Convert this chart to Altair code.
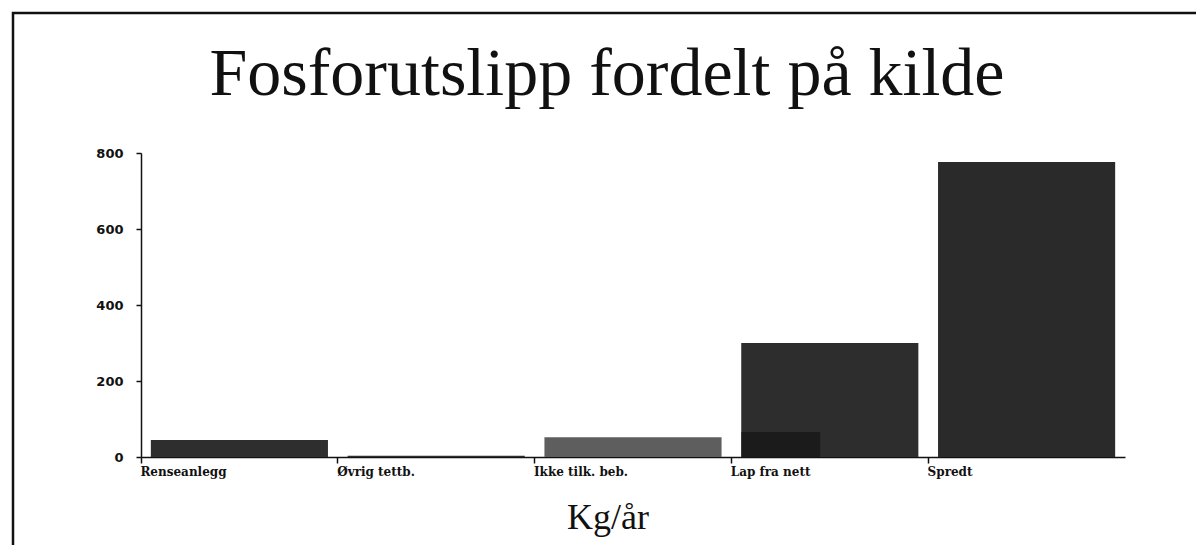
import altair as alt
import pandas as pd

categories = ["Renseanlegg", "Øvrig tettb.", "Ikke tilk. beb.", "Lap fra nett", "Spredt"]
values = [45, 3, 52, 300, 776]
bar_colors = ["#2e2e2e", "#2e2e2e", "#5e5e5e", "#2d2d2d", "#2a2a2a"]
inner_category = ["Lap fra nett"]
inner_values = [66]
y_ticks = [0, 200, 400, 600, 800]
title_text = "Fosforutslipp fordelt på kilde"
unit_text = "Kg/år"

df = pd.DataFrame({"kilde": categories, "kg": values, "farge": bar_colors})
df_inner = pd.DataFrame({"kilde": inner_category, "kg": inner_values})
one = pd.DataFrame({"t": [title_text], "u": [unit_text]})

W, H = 984, 304

xscale = alt.Scale(domain=categories, paddingInner=0, paddingOuter=0)
yscale = alt.Scale(domain=[0, 800], nice=False)

xaxis = alt.Axis(
    title=None, labelAngle=0, labelAlign="left", labelBaseline="top",
    bandPosition=0, labelOffset=-99, labelFlush=False,
    labelFont="DejaVu Serif", labelFontWeight="bold", labelFontSize=12,
    labelColor="#111", labelPadding=3, tickSize=6, tickColor="#111",
    tickWidth=1.5, domainColor="#111", domainWidth=1.5, labelOverlap=False,
)
yaxis = alt.Axis(
    title=None, values=y_ticks, labelFont="DejaVu Sans",
    labelFontWeight="bold", labelFontSize=13, labelColor="#111",
    labelPadding=13, tickSize=5, tickColor="#111", tickWidth=1.5,
    domainColor="#111", domainWidth=1.5, grid=False,
)

bars = alt.Chart(df).mark_bar(width=alt.RelativeBandSize(0.9)).encode(
    x=alt.X("kilde:N", scale=xscale, axis=xaxis, sort=categories),
    y=alt.Y("kg:Q", scale=yscale, axis=yaxis),
    color=alt.Color("farge:N", scale=None),
)

inner = alt.Chart(df_inner).mark_bar(
    width=alt.RelativeBandSize(0.4), xOffset=-49, color="#1b1b1b"
).encode(
    x=alt.X("kilde:N", scale=xscale, sort=categories),
    y=alt.Y("kg:Q", scale=yscale),
)

title = alt.Chart(one).mark_text(
    font="Liberation Serif", fontSize=68, align="center",
    baseline="alphabetic", color="#111"
).encode(x=alt.value(466), y=alt.value(-58), text="t:N")

unit = alt.Chart(one).mark_text(
    font="Liberation Serif", fontSize=36, align="center",
    baseline="alphabetic", color="#111"
).encode(x=alt.value(467), y=alt.value(376), text="u:N")

frame = alt.Chart(one).mark_rect(
    fillOpacity=0, stroke="#111", strokeWidth=2.5
).encode(
    x=alt.value(-128), x2=alt.value(1059),
    y=alt.value(-140), y2=alt.value(460),
)

chart = alt.layer(frame, bars, inner, title, unit).properties(
    width=W, height=H,
    autosize=alt.AutoSizeParams(type="none"),
    padding={"left": 133, "top": 145, "right": 71, "bottom": 88},
    background="white",
).configure_view(stroke=None)

chart.save("out.html", embed_options={"renderer": "svg", "actions": False})
